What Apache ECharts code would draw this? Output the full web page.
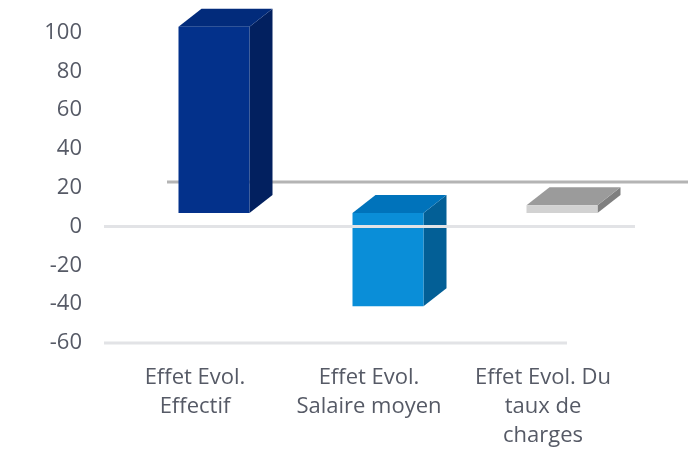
<!DOCTYPE html>
<html>
<head>
<meta charset="utf-8">
<script src="https://cdn.jsdelivr.net/npm/echarts@6/dist/echarts.min.js"></script>
<style>
html, body { margin: 0; padding: 0; background: #fff; }
#chart { width: 688px; height: 455px; }
</style>
</head>
<body>
<div id="chart"></div>
<script>
// categories and the floating 3D columns (low / high ends, axis units)
const categories = ['Effet Evol.\nEffectif', 'Effet Evol.\nSalaire moyen', 'Effet Evol. Du\ntaux de\ncharges']
const barLow = [7, -41, 7]
const barHigh = [103, 7, 11]
const yMin = -60
const yMax = 100
const yStep = 20
// back floor line and front lines of the 3D box
const floorLevel = 23
const frontLines = [0, -60]

const faceColors = [
    { front: '#03318b', top: '#022b7b', side: '#02205f' },
    { front: '#0a8ed8', top: '#0073bb', side: '#035f96' },
    { front: '#d2d2d2', top: '#9b9b9b', side: '#7f7f7f' }
]

const chart = echarts.init(document.getElementById('chart'))

function renderBox(params, api) {
    const i = api.value(0)
    const lo = api.coord([i, api.value(1)])
    const hi = api.coord([i, api.value(2)])
    const w = 71, shift = 19, dx = 23, dy = -18
    const x0 = lo[0] + shift - w / 2
    const x1 = x0 + w
    const yt = hi[1]
    const yb = lo[1]
    const c = faceColors[i]
    return {
        type: 'group',
        children: [
            { type: 'polygon', shape: { points: [[x1, yt], [x1 + dx, yt + dy], [x1 + dx, yb + dy], [x1, yb]] }, style: { fill: c.side } },
            { type: 'polygon', shape: { points: [[x0, yt], [x0 + dx, yt + dy], [x1 + dx, yt + dy], [x1, yt]] }, style: { fill: c.top } },
            { type: 'rect', shape: { x: x0, y: yt, width: w, height: yb - yt }, style: { fill: c.front } }
        ]
    }
}

function renderFloor(params, api) {
    const cs = params.coordSys
    const y = api.coord([0, api.value(0)])[1]
    return {
        type: 'line',
        shape: { x1: cs.x + 59, y1: y, x2: api.getWidth(), y2: y },
        style: { stroke: '#b4b4b4', lineWidth: 3 }
    }
}

function renderFront(params, api) {
    const cs = params.coordSys
    const v = api.value(0)
    const y = api.coord([0, v])[1]
    const right = v === 0 ? cs.x + cs.width + 5 : cs.x + cs.width - 63
    return {
        type: 'line',
        shape: { x1: cs.x - 4, y1: y, x2: right, y2: y },
        style: { stroke: '#e2e3e6', lineWidth: 3 }
    }
}

const option = {
    animation: false,
    grid: { left: 108, right: 58, top: 32.5, bottom: 112, outerBoundsMode: 'none' },
    xAxis: {
        type: 'category',
        data: categories,
        axisLine: { show: false },
        axisTick: { show: false },
        axisLabel: {
            margin: 20,
            fontFamily: 'Open Sans',
            fontSize: 22,
            lineHeight: 29,
            color: '#565a66',
            interval: 0
        }
    },
    yAxis: {
        type: 'value',
        min: yMin,
        max: yMax,
        interval: yStep,
        axisLine: { show: false },
        axisTick: { show: false },
        splitLine: { show: false },
        axisLabel: {
            margin: 26,
            fontFamily: 'Open Sans',
            fontSize: 22,
            color: '#565a66'
        }
    },
    series: [
        {
            type: 'custom',
            z: 1,
            renderItem: renderFloor,
            data: [[floorLevel]],
            encode: { y: 0 }
        },
        {
            type: 'custom',
            z: 2,
            renderItem: renderBox,
            data: categories.map((c, i) => [i, barLow[i], barHigh[i]]),
            encode: { x: 0, y: [1, 2] }
        },
        {
            type: 'custom',
            z: 3,
            renderItem: renderFront,
            data: frontLines.map(v => [v]),
            encode: { y: 0 }
        }
    ]
}

chart.setOption(option)
</script>
</body>
</html>
